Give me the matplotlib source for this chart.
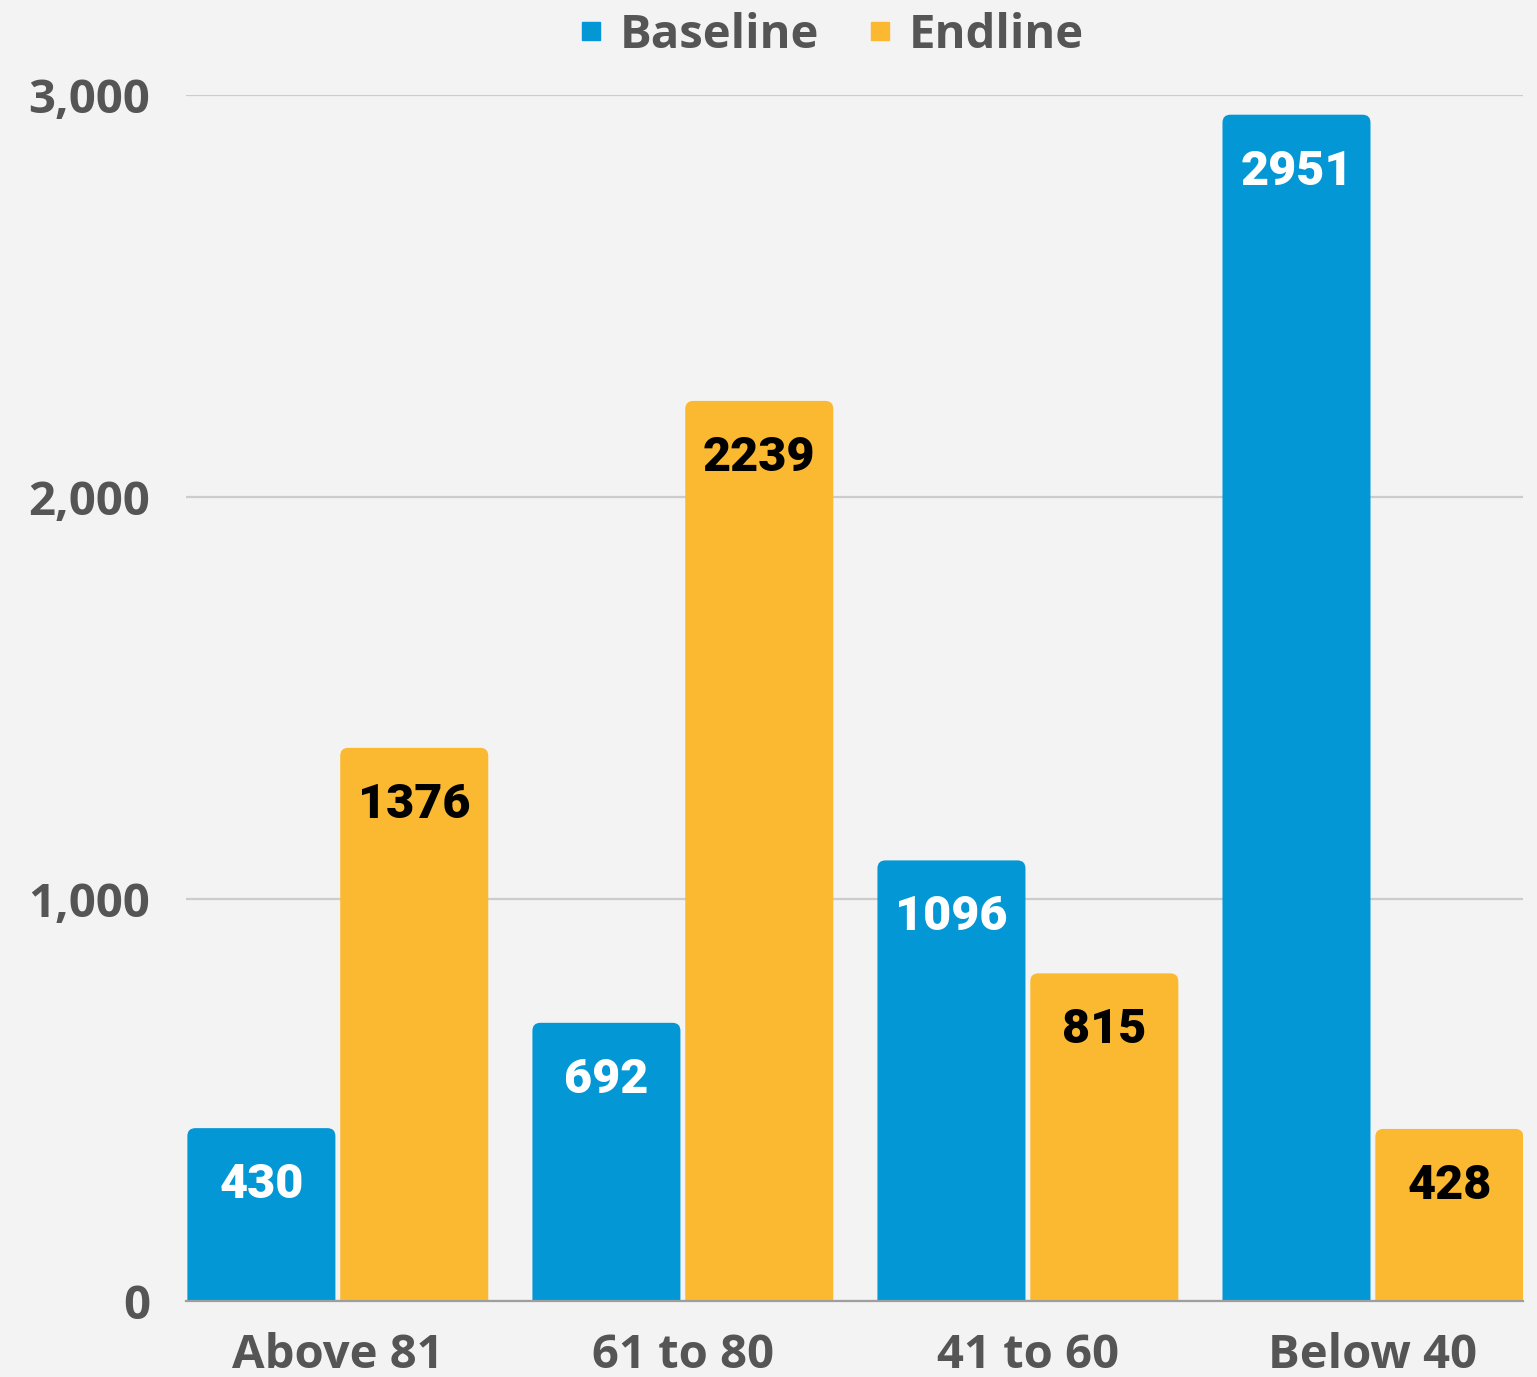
import numpy as np
import matplotlib
matplotlib.use("Agg")
import matplotlib.pyplot as plt
from matplotlib.patches import FancyBboxPatch
from matplotlib.ticker import FuncFormatter

categorias = ["Above 81", "61 to 80", "41 to 60", "Below 40"]
baseline = [430, 692, 1096, 2951]
endline = [1376, 2239, 815, 428]

azul = "#0397d6"
amarillo = "#fbb932"
gris_texto = "#555555"
fondo = "#f3f3f3"

fig = plt.figure(figsize=(15.37, 13.77), dpi=100, facecolor=fondo)
ax = fig.add_axes([186/1537, 76/1377, (1523-186)/1537, (1301-95)/1377])
ax.set_facecolor(fondo)

x = np.arange(len(categorias))
ancho = 0.429
desp = 0.2215

ax.set_xlim(-0.44, 3.435)
ax.set_ylim(0, 3000)

# radio de las esquinas en pixeles -> unidades de datos
px_x = 345.0
px_y = (1301-95)/3000
radio = 8/px_x
aspecto = px_x/px_y

def barras_redondeadas(barras, color):
    for b in barras:
        r_y = radio*aspecto
        p = FancyBboxPatch((b.get_x(), -r_y), b.get_width(), b.get_height()+r_y,
                           boxstyle=f"round,pad=0,rounding_size={radio}",
                           mutation_aspect=aspecto, facecolor=color,
                           edgecolor="none", zorder=3)
        ax.add_patch(p)
        b.set_visible(False)

b1 = ax.bar(x - desp, baseline, ancho, color=azul, label="Baseline")
b2 = ax.bar(x + desp, endline, ancho, color=amarillo, label="Endline")
barras_redondeadas(b1, azul)
barras_redondeadas(b2, amarillo)

# etiquetas de valores
for xi, v in zip(x - desp, baseline):
    ax.annotate(str(v), (xi, v), xytext=(0, -41), textcoords="offset points",
                ha="center", va="center", fontsize=35, fontweight="black",
                family="Roboto", color="white", zorder=5)
for xi, v in zip(x + desp, endline):
    ax.annotate(str(v), (xi, v), xytext=(0, -41), textcoords="offset points",
                ha="center", va="center", fontsize=35, fontweight="black",
                family="Roboto", color="black", zorder=5)

# ejes
ax.set_yticks([0, 1000, 2000, 3000])
ax.yaxis.set_major_formatter(FuncFormatter(lambda v, p: f"{int(v):,}"))
ax.grid(axis="y", color="#cccccc", linewidth=1.6, zorder=0)
ax.set_axisbelow(True)
ax.set_xticks(x)
ax.set_xticklabels(categorias)
ax.tick_params(axis="both", length=0, labelsize=34, labelcolor=gris_texto)
ax.tick_params(axis="y", pad=26)
ax.tick_params(axis="x", pad=22)
for lab in ax.get_xticklabels() + ax.get_yticklabels():
    lab.set_family("Open Sans")
    lab.set_fontweight("bold")

for s in ["top", "right", "left"]:
    ax.spines[s].set_visible(False)
ax.spines["bottom"].set_color("#9e9e9e")
ax.spines["bottom"].set_linewidth(1.6)
ax.spines["bottom"].set_zorder(4)

# leyenda
h1 = plt.Line2D([], [], marker="s", linestyle="none", markersize=12.5, color=azul)
h2 = plt.Line2D([], [], marker="s", linestyle="none", markersize=12.5, color=amarillo)
fig.legend([h1, h2], ["Baseline", "Endline"], loc="center",
           bbox_to_anchor=(828/1537, 1-35/1377), ncol=2, frameon=False,
           prop={"family": "Open Sans", "weight": "bold", "size": 34},
           labelcolor=gris_texto, handletextpad=0.2, columnspacing=0.9,
           handlelength=0.8)

fig.savefig("out.png", dpi=100, facecolor=fondo)
